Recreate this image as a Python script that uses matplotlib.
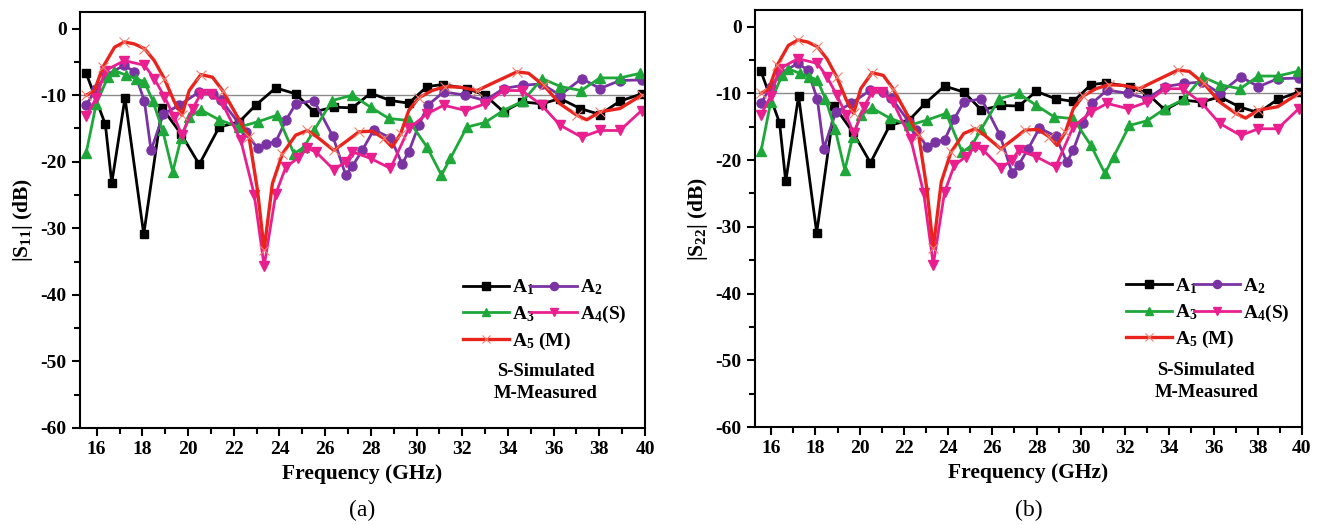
import matplotlib
matplotlib.use("Agg")
import matplotlib.pyplot as plt

plt.rcParams['font.family'] = ['Liberation Serif', 'DejaVu Serif']
plt.rcParams['font.weight'] = 'bold'
plt.rcParams['axes.labelweight'] = 'bold'
plt.rcParams['mathtext.fontset'] = 'custom'
plt.rcParams['mathtext.rm'] = 'Liberation Serif:bold'
plt.rcParams['mathtext.bf'] = 'Liberation Serif:bold'
plt.rcParams['mathtext.it'] = 'Liberation Serif:bold'

# data (frequency in GHz, magnitude in dB)
f_a1 = [15.54, 16.38, 16.66, 17.24, 18.06, 18.86, 19.69, 20.49, 21.36, 22.24, 22.96,
        23.84, 24.71, 25.51, 26.38, 27.19, 27.99, 28.86, 29.66, 30.46, 31.15, 32.21,
        33.0, 33.81, 34.61, 35.48, 36.28, 37.16, 38.03, 38.9, 39.85]
s_a1 = [-6.7, -14.4, -23.2, -10.4, -30.9, -11.9, -15.8, -20.4, -14.8, -14.0, -11.5,
        -8.9, -9.8, -12.5, -11.8, -11.9, -9.7, -10.8, -11.2, -8.7, -8.4, -9.0,
        -10.0, -12.5, -11.0, -11.3, -10.5, -12.0, -12.9, -10.9, -9.8]

f_a2 = [15.54, 15.98, 16.41, 17.21, 17.65, 18.09, 18.38, 18.92, 19.62, 20.49, 21.07,
        21.44, 22.24, 22.53, 23.04, 23.4, 23.84, 24.28, 24.71, 25.51, 26.34, 26.9,
        27.19, 27.62, 28.13, 28.86, 29.37, 29.66, 30.1, 30.5, 31.19, 32.14, 33.0,
        33.81, 34.68, 35.48, 36.28, 37.23, 38.03, 38.9, 39.85]
s_a2 = [-11.5, -9.0, -7.0, -5.5, -6.5, -10.9, -18.3, -12.8, -11.5, -9.5, -9.8,
        -10.7, -14.3, -15.5, -18.0, -17.3, -17.0, -13.8, -11.3, -10.8, -16.2, -22.0,
        -20.7, -18.3, -15.2, -16.4, -20.3, -18.5, -14.5, -11.5, -9.5, -10.0, -10.8,
        -9.0, -8.5, -8.3, -10.0, -7.5, -9.0, -7.8, -7.7]

f_a3 = [15.54, 15.98, 16.49, 16.78, 17.29, 17.72, 18.09, 18.45, 18.89, 19.33, 19.69,
        20.05, 20.56, 21.36, 22.24, 23.04, 23.91, 24.64, 25.07, 25.51, 26.31, 27.19,
        27.99, 28.79, 29.66, 30.46, 31.09, 31.48, 32.2, 33.0, 33.8, 34.65, 35.5,
        36.3, 37.2, 38.03, 38.9, 39.8]
s_a3 = [-18.7, -11.3, -7.3, -6.3, -7.0, -7.5, -8.0, -10.8, -15.3, -21.5, -16.5,
        -13.3, -12.2, -13.7, -14.8, -14.0, -13.0, -18.8, -17.8, -15.3, -10.8, -10.0,
        -11.8, -13.5, -13.8, -17.8, -22.0, -19.5, -14.8, -14.1, -12.3, -10.9, -7.5,
        -8.7, -9.3, -7.4, -7.4, -6.7]

f_a4 = [15.54, 15.98, 16.38, 17.21, 18.09, 18.52, 18.96, 19.4, 19.73, 20.2, 20.56,
        21.0, 21.51, 22.31, 22.9, 23.33, 23.84, 24.28, 24.79, 25.22, 25.59, 26.38,
        26.9, 27.19, 27.99, 28.86, 29.66, 30.46, 31.19, 32.14, 33.0, 33.81, 34.61,
        35.48, 36.28, 37.23, 38.03, 38.9, 39.85]
s_a4 = [-13.2, -10.4, -6.3, -4.8, -5.5, -7.5, -10.2, -13.3, -16.0, -12.0, -9.8,
        -9.8, -11.3, -16.8, -25.0, -35.7, -24.8, -20.8, -19.5, -18.0, -18.5, -21.2,
        -20.0, -18.5, -19.5, -21.0, -15.0, -12.8, -11.5, -12.3, -11.3, -9.3, -9.3,
        -11.5, -14.5, -16.3, -15.3, -15.3, -12.3]

f_a5 = [15.54, 15.9, 16.27, 16.78, 17.21, 17.65, 18.09, 18.52, 18.96, 19.4, 19.73,
        20.05, 20.56, 21.07, 21.51, 22.09, 22.67, 23.04, 23.33, 23.69, 24.13, 24.71,
        25.22, 25.66, 26.38, 26.9, 27.48, 28.06, 28.57, 28.93, 29.3, 29.66, 30.1,
        30.68, 31.26, 31.92, 32.65, 33.45, 34.39, 34.9, 35.56, 36.28, 37.01, 37.45,
        38.03, 38.9, 39.85]
s_a5 = [-10.0, -9.3, -5.8, -2.8, -2.0, -2.3, -3.0, -4.8, -7.5, -11.0, -13.0,
        -9.3, -6.9, -7.3, -9.3, -12.8, -16.3, -24.3, -33.2, -23.3, -18.8, -16.0,
        -15.3, -16.3, -18.3, -17.0, -15.5, -15.4, -16.5, -17.8, -15.8, -12.3, -10.4,
        -9.3, -8.7, -8.8, -9.3, -8.0, -6.5, -6.7, -8.5, -11.3, -13.0, -13.7,
        -12.5, -12.0, -10.0]

xticks = list(range(16, 41, 2))
yticks = list(range(-60, 1, 10))
ylabels = [r'|S$_{11}$| (dB)', r'|S$_{22}$| (dB)']
captions = ['(a)', '(b)']

W, H = 1327, 525
fig = plt.figure(figsize=(W / 100, H / 100), dpi=100)
boxes = [(80, 12, 645, 428), (755, 10, 1302, 427)]


def draw_panel(ax, ylabel):
    ax.axhline(-10, color='#8a8a8a', lw=1.0, zorder=1)
    l1, = ax.plot(f_a1, s_a1, color='black', lw=2, marker='s', ms=6, label=r'A$_1$')
    l2, = ax.plot(f_a2, s_a2, color='#7b33a3', lw=2, marker='o', ms=6.5, label=r'A$_2$')
    l3, = ax.plot(f_a3, s_a3, color='#1fa83a', lw=2, marker='^', ms=6.5, label=r'A$_3$')
    l4, = ax.plot(f_a4, s_a4, color='#ea1f8f', lw=2, marker='v', ms=6.5, label=r'A$_4$(S)')
    l5, = ax.plot(f_a5, s_a5, color='#e8241c', lw=2.4, marker='x', ms=7, mew=0.8,
                  mec='#f08070', markevery=2, label=r'A$_5$ (M)')
    ax.set_xlim(15.27, 40)
    ax.set_ylim(-60, 2.5)
    ax.set_xticks(xticks)
    ax.set_xticks(range(16, 41), minor=True)
    ax.set_yticks(yticks)
    ax.set_yticks(range(-55, 1, 10), minor=True)
    ax.set_yticklabels([str(v) for v in yticks])
    ax.tick_params(which='major', direction='out', length=6, width=1.5, labelsize=14)
    ax.tick_params(which='minor', direction='out', length=4, width=1.5)
    ax.tick_params(top=False, right=False)
    for sp in ax.spines.values():
        sp.set_linewidth(1.5)
    ax.set_xlabel('Frequency (GHz)', fontsize=15.5, labelpad=4)
    ax.set_ylabel(ylabel, fontsize=15.5, labelpad=4)
    handles = [l1, l3, l5, l2, l4]
    ax.legend(handles=handles, labels=[h.get_label() for h in handles], ncol=2,
              loc='upper left', bbox_to_anchor=(0.66, 0.385), frameon=False,
              fontsize=14, handlelength=2.4, handletextpad=0.15, columnspacing=-2.1,
              labelspacing=0.35, borderpad=0, markerscale=0.9)
    ax.text(0.825, 0.135, 'S-Simulated', transform=ax.transAxes, ha='center',
            va='center', fontsize=13.5)
    ax.text(0.825, 0.083, 'M-Measured', transform=ax.transAxes, ha='center',
            va='center', fontsize=13.5)


for (x0, y0, x1, y1), yl, cap in zip(boxes, ylabels, captions):
    ax = fig.add_axes([x0 / W, 1 - y1 / H, (x1 - x0) / W, (y1 - y0) / H])
    draw_panel(ax, yl)
    fig.text((x0 + x1) / 2 / W, 1 - 510 / H, cap, ha='center', va='center',
             fontsize=17, fontweight='normal')

fig.savefig('out.png', dpi=100)
